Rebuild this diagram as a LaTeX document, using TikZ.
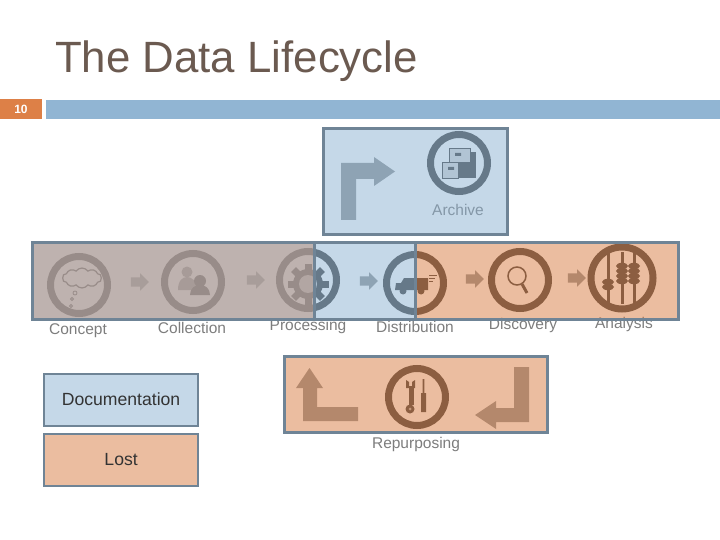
\documentclass[tikz,border=0pt]{standalone}
\usepackage{fontspec}
\setmainfont{Liberation Sans}
\usepackage{xcolor}
\usetikzlibrary{shapes.arrows,shapes.symbols}
\definecolor{iconDark}{RGB}{66,66,66}
\definecolor{arrowGrey}{RGB}{146,150,152}
\definecolor{labelGrey}{RGB}{125,125,125}
\definecolor{titleBrown}{RGB}{107,90,80}
\definecolor{pageOrange}{RGB}{221,128,71}
\definecolor{frameBlue}{RGB}{111,132,150}
\definecolor{veilGrey}{RGB}{174,159,155}
\definecolor{veilBlue}{RGB}{139,177,209}
\definecolor{veilOrange}{RGB}{215,123,65}
\definecolor{solidBlue}{RGB}{197,216,232}
\definecolor{solidOrange}{RGB}{235,189,160}

\begin{document}
\begin{tikzpicture}[
  x=1pt, y=-1pt,
  ring/.style={circle, draw=iconDark, line width=7pt, inner sep=0pt, minimum size=57pt},
  flow/.style={single arrow, fill=arrowGrey, inner xsep=0pt, inner ysep=4.5pt, minimum height=18pt, single arrow head extend=4pt, single arrow tip angle=90},
  stage/.style={text=labelGrey, font=\fontsize{15.5}{18}\selectfont, inner sep=0pt},
  veil/.style={rectangle, draw=frameBlue, line width=3pt, inner sep=0pt, anchor=north west},
  key/.style={rectangle, draw=frameBlue, line width=2.2pt, inner sep=0pt, anchor=north west, minimum width=154pt, minimum height=52pt, text height=13pt, text depth=3pt, font=\fontsize{17.6}{21}\selectfont, text=black!80}
]
\useasboundingbox (0,0) rectangle (720,540);
\node[anchor=west, inner sep=0pt, text=titleBrown, font=\fontsize{43.8}{50}\selectfont] (title) at (55,61) {The Data Lifecycle};
\node[fill=pageOrange, inner sep=0pt, minimum width=42pt, minimum height=20pt, text=white, font=\bfseries\fontsize{12}{14}\selectfont] (page) at (21,109) {10};
\node[fill=veilBlue!95!white, inner sep=0pt, minimum width=674pt, minimum height=19pt] (bar) at (383,109.5) {};
% icon rings
\foreach \name/\px/\py in {concept/79/285, collection/193/282, processing/308/280, distribution/415/283, discovery/520/280, archive/459/163, repurposing/417/397}
  \node[ring] (\name) at (\px,\py) {};
\node[ring, minimum size=62pt] (analysis) at (622,278) {};
% small arrows
\node[flow] (flowa) at (137.5,282) {};
\node[flow] (flowb) at (253.5,280) {};
\node[flow] (flowc) at (366.5,281) {};
\node[flow] (flowd) at (472.5,279) {};
\node[flow] (flowe) at (574.5,278) {};
% labels
\node[stage] (lconcept) at (78,331) {Concept};
\node[stage] (lcollection) at (192,328) {Collection};
\node[stage] (lprocessing) at (308,326) {Processing};
\node[stage] (ldistribution) at (415,327) {Distribution};
\node[stage] (ldiscovery) at (523,325) {Discovery};
\node[stage] (lanalysis) at (624,324) {Analysis};
\node[stage] (larchive) at (458,210) {Archive};
\node[stage] (lrepurposing) at (416,444) {Repurposing};
% concept
\node[cloud, cloud puffs=10, cloud puff arc=110, aspect=2, draw=iconDark, line width=1.2pt, inner sep=0pt, minimum width=39pt, minimum height=20pt] (thought) at (82,278) {};
\draw[iconDark, line width=.8pt] (75,293) circle (2) (72,299) circle (1.5) (71,306) circle (1.5);
% collection
\fill[iconDark!60!white] (187,272) circle (5.5) (178,290) .. controls (178,280) and (183,277) .. (187,277) .. controls (191,277) and (197,280) .. (197,290) -- cycle;
\fill[iconDark] (200,281) circle (6) (190,295) .. controls (190,288) and (195,285) .. (200,285) .. controls (205,285) and (210,288) .. (210,295) -- cycle;
% processing
\foreach \turn in {0,45,...,315}
  \fill[iconDark, rotate around={\turn:(308,284)}] (304.5,263.5) rectangle (311.5,272);
\fill[iconDark] (308,284) circle (15);
\fill[white!70!iconDark] (308,284) circle (9);
% distribution
\fill[iconDark] (406,278) rectangle (428,290) (395,290) -- (396,283) -- (401,283) -- (404,278) -- (406,278) -- (406,290) -- cycle;
\fill[iconDark] (403,291) circle (3.5) (421,291) circle (3.5);
\draw[iconDark, line width=.8pt] (429,275) -- (437,275) (429,278) -- (435,278) (429,281) -- (433,281);
% discovery
\draw[iconDark, line width=1.5pt] (517,276) circle (9);
\draw[iconDark, line width=3pt] (522,284) -- (527,293);
% analysis
\foreach \rod in {608,622,634}
  \fill[iconDark] (\rod-1.5,252) rectangle (\rod+1.5,304);
\foreach \rod/\beady in {608/282, 608/287, 622/266, 622/271, 622/276, 622/281, 634/266, 634/271, 634/276, 634/281}
  \fill[iconDark] (\rod,\beady) ellipse (6 and 3.2);
% archive
\fill[iconDark] (458,152) -- (476,152) -- (476,178) -- (458,178) -- cycle;
\fill[white!80!iconDark, draw=iconDark, line width=.6pt] (449,148) rectangle (470,162);
\fill[white!80!iconDark, draw=iconDark, line width=.6pt] (442,162) rectangle (458,178);
\fill[iconDark] (455,153) rectangle (461,156) (448,167) rectangle (454,170);
% repurposing
\fill[iconDark] (408.5,388) rectangle (413.5,405);
\fill[iconDark] (410,409) circle (4.5);
\fill[iconDark] (406,380) -- (409,382) -- (409,386) -- (412,386) -- (412,382) -- (415,380) -- (415,388) -- (406,388) -- cycle;
\fill[white!60!iconDark] (410,409) circle (1.5);
\fill[iconDark] (421,393) rectangle (426,412) (422.6,379) rectangle (424.4,393);
% big arrows
\fill[arrowGrey] (341,220) -- (341,163) -- (374,163) -- (374,157) -- (395,171.5) -- (374,186) -- (374,179) -- (356,179) -- (356,220) -- cycle;
\fill[arrowGrey] (358,421) -- (303,421) -- (303,388) -- (296,388) -- (309.5,368) -- (323,388) -- (317,388) -- (317,407) -- (358,407) -- cycle;
\fill[arrowGrey] (514,367) -- (529,367) -- (529,422) -- (496,422) -- (496,429) -- (475,415) -- (496,401) -- (496,408) -- (514,408) -- cycle;
% coloured veils
\node[veil, fill=veilGrey, fill opacity=.8, minimum width=282pt, minimum height=77pt] (veilgrey) at (31,241) {};
\node[veil, fill=veilBlue, fill opacity=.5, minimum width=101pt, minimum height=77pt] (veilblue) at (313,241) {};
\node[veil, fill=veilOrange, fill opacity=.5, minimum width=263pt, minimum height=77pt] (veilorange) at (414,241) {};
\node[veil, fill=veilBlue, fill opacity=.5, minimum width=184pt, minimum height=106pt] (veilarchive) at (322,127) {};
\node[veil, fill=veilOrange, fill opacity=.5, minimum width=263pt, minimum height=76pt] (veilrepurposing) at (283,355) {};
% key
\node[key, fill=solidBlue] (documentation) at (43,373) {Documentation};
\node[key, fill=solidOrange] (lost) at (43,433) {Lost};
\end{tikzpicture}
\end{document}
